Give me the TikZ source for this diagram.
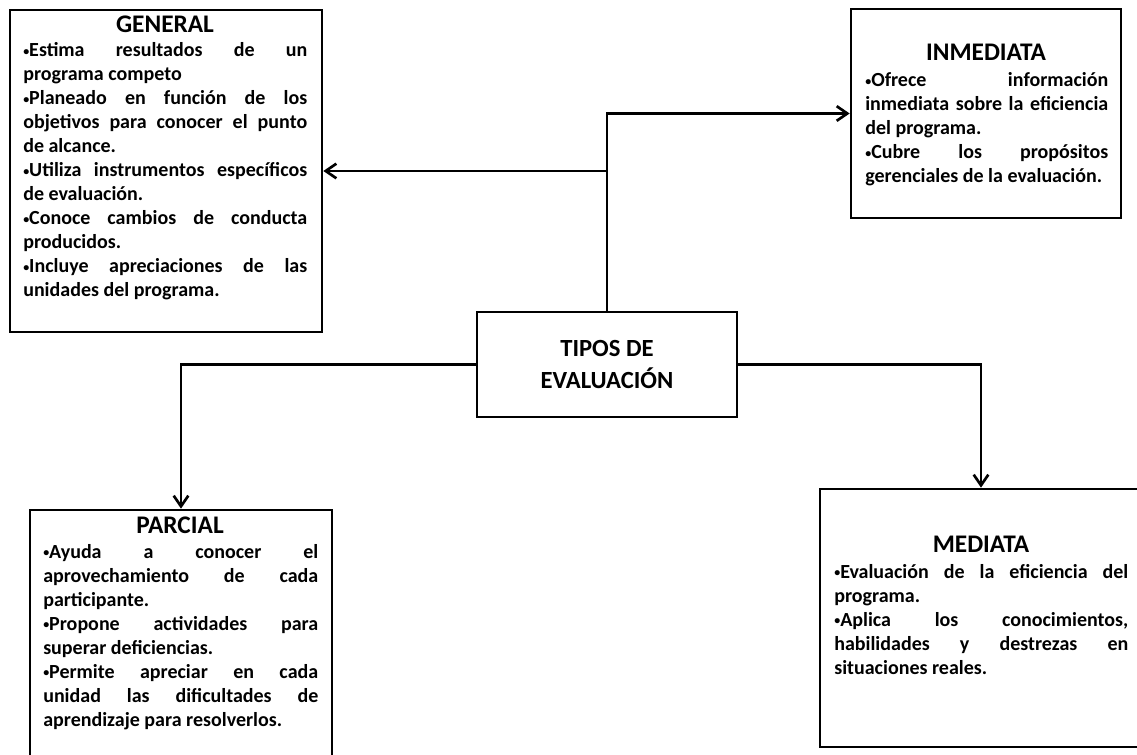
\documentclass[tikz,border=0pt]{standalone}
\usepackage{fontspec}
\setmainfont{Carlito}
\usetikzlibrary{arrows.meta}
\hbadness=10000
\newcommand{\bul}{\raisebox{1.2pt}{\fontsize{9}{9}\selectfont •}}
\tikzset{
  box/.style={draw=black, line width=2pt, rectangle, inner sep=0pt, fill=white},
  head/.style={anchor=base, inner sep=0pt, font=\fontsize{19}{22}\selectfont\bfseries},
  body/.style={anchor=base west, inner sep=0pt, align=justify, font=\fontsize{15}{18}\selectfont\bfseries},
  conn/.style={line width=2pt, -{Straight Barb[length=8pt,width=11pt]}},
}
\begin{document}
\begin{tikzpicture}[x=0.75pt,y=-0.75pt]
\useasboundingbox (0,0) rectangle (1137,755);
% boxes
\node[box, minimum width=234pt, minimum height=241.5pt] (general) at (166,171) {};
\node[box, minimum width=202.5pt, minimum height=156.75pt] (inmediata) at (986,113.5) {};
\node[box, minimum width=226.5pt, minimum height=195pt] (parcial) at (181,640) {};
\node[box, minimum width=241.5pt, minimum height=193.5pt] (mediata) at (981,618) {};
\node[box, minimum width=195pt, minimum height=78.75pt, align=center,
      font=\fontsize{18.5}{24}\selectfont\bfseries] (tipos) at (607,364.5) {TIPOS DE\\EVALUACIÓN};
% texts
\node[head] (generalhead) at (165,33) {GENERAL};
\node[body, text width=213pt] (generaltext) at (23,57) {%
\bul Estima resultados de un\linebreak programa competo\par
\bul Planeado en función de los\linebreak objetivos para conocer el punto\linebreak de alcance.\par
\bul Utiliza instrumentos específicos\linebreak de evaluación.\par
\bul Conoce cambios de conducta\linebreak producidos.\par
\bul Incluye apreciaciones de las\linebreak unidades del programa.\par};
\node[head] (inmediatahead) at (986,61) {INMEDIATA};
\node[body, text width=182.25pt] (inmediatatext) at (865,87) {%
\bul Ofrece información\linebreak inmediata sobre la eficiencia\linebreak del programa.\par
\bul Cubre los propósitos\linebreak gerenciales de la evaluación.\par};
\node[head] (parcialhead) at (180,533) {PARCIAL};
\node[body, text width=206.25pt] (parcialtext) at (43,558) {%
\bul Ayuda a conocer el\linebreak aprovechamiento de cada\linebreak participante.\par
\bul Propone actividades para\linebreak superar deficiencias.\par
\bul Permite apreciar en cada\linebreak unidad las dificultades de\linebreak aprendizaje para resolverlos.\par};
\node[head] (mediatahead) at (981,552) {MEDIATA};
\node[body, text width=220.5pt] (mediatatext) at (834,578) {%
\bul Evaluación de la eficiencia del\linebreak programa.\par
\bul Aplica los conocimientos,\linebreak habilidades y destrezas en\linebreak situaciones reales.\par};
% connectors
\draw[conn] (tipos.north) |- (inmediata.west);
\draw[conn] (tipos.north) |- (general.east);
\draw[conn] (tipos.west) -| (parcial.north);
\draw[conn] (tipos.east) -| (mediata.north);
\end{tikzpicture}
\end{document}
